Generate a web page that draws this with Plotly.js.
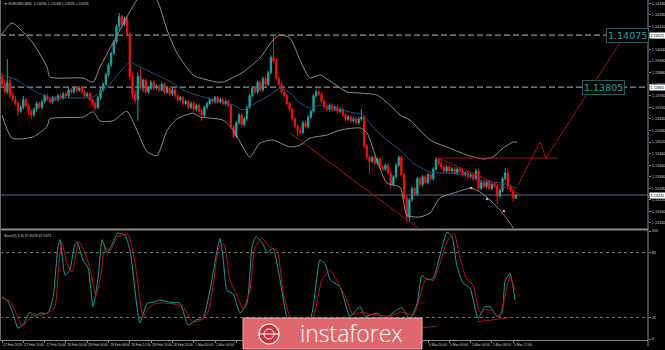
<!DOCTYPE html>
<html><head><meta charset="utf-8">
<script src="https://cdn.plot.ly/plotly-3.0.1.min.js"></script>
<style>html,body{margin:0;padding:0;background:#000;overflow:hidden}#chart{width:665px;height:350px}</style>
</head><body><div id="chart"></div>
<script>
// ---------- DATA (EURUSD M30) ----------
const openP = [1.1386,1.1382,1.1378,1.1383,1.1376,1.1374,1.1372,1.1368,1.1370,1.1374,
1.1371,1.1368,1.1366,1.1369,1.1372,1.1370,1.1373,1.1376,1.1374,1.1373,
1.1375,1.1374,1.1376,1.1375,1.1377,1.1376,1.1379,1.1378,1.1380,1.1379,
1.1380,1.1378,1.1376,1.1377,1.1374,1.1372,1.1370,1.1375,1.1379,1.1382,
1.1387,1.1392,1.1398,1.1404,1.1412,1.1417,1.1413,1.1416,1.1408,1.1386,
1.1377,1.1374,1.1386,1.1380,1.1384,1.1378,1.1380,1.1383,1.1380,1.1381,
1.1379,1.1382,1.1378,1.1380,1.1377,1.1379,1.1376,1.1374,1.1375,1.1372,
1.1373,1.1370,1.1372,1.1369,1.1371,1.1368,1.1366,1.1370,1.1372,1.1374,
1.1373,1.1375,1.1373,1.1374,1.1372,1.1373,1.1371,1.1360,1.1355,1.1362,
1.1366,1.1361,1.1364,1.1370,1.1376,1.1380,1.1378,1.1383,1.1379,1.1385,
1.1382,1.1388,1.1396,1.1394,1.1385,1.1382,1.1378,1.1376,1.1372,1.1369,
1.1364,1.1360,1.1358,1.1357,1.1362,1.1360,1.1365,1.1368,1.1376,1.1378,
1.1377,1.1373,1.1370,1.1369,1.1371,1.1369,1.1370,1.1368,1.1369,1.1366,
1.1364,1.1365,1.1363,1.1364,1.1362,1.1364,1.1365,1.1350,1.1344,1.1342,
1.1344,1.1341,1.1343,1.1339,1.1338,1.1340,1.1336,1.1330,1.1334,1.1340,
1.1344,1.1335,1.1323,1.1313,1.1322,1.1328,1.1325,1.1333,1.1330,1.1334,
1.1331,1.1335,1.1333,1.1338,1.1343,1.1341,1.1339,1.1337,1.1339,1.1337,
1.1338,1.1336,1.1338,1.1337,1.1335,1.1336,1.1334,1.1335,1.1333,1.1337,
1.1328,1.1331,1.1329,1.1331,1.1328,1.1330,1.1329,1.1324,1.1327,1.1333,
1.1336,1.1329,1.1327,1.1323];
const highP = [1.1388,1.1384,1.1395,1.1385,1.1378,1.1376,1.1373,1.1371,1.1376,1.1375,
1.1372,1.1369,1.1370,1.1373,1.1373,1.1374,1.1377,1.1377,1.1375,1.1376,
1.1376,1.1377,1.1377,1.1378,1.1378,1.1380,1.1380,1.1381,1.1381,1.1381,
1.1381,1.1379,1.1378,1.1378,1.1375,1.1373,1.1376,1.1380,1.1383,1.1388,
1.1393,1.1399,1.1405,1.1413,1.1419,1.1418,1.1417,1.1417,1.1409,1.1388,
1.1379,1.1388,1.1390,1.1385,1.1385,1.1381,1.1384,1.1384,1.1382,1.1382,
1.1383,1.1383,1.1381,1.1381,1.1380,1.1380,1.1377,1.1376,1.1376,1.1374,
1.1374,1.1373,1.1373,1.1372,1.1372,1.1369,1.1371,1.1373,1.1375,1.1375,
1.1376,1.1376,1.1375,1.1375,1.1374,1.1374,1.1372,1.1361,1.1363,1.1367,
1.1367,1.1365,1.1371,1.1377,1.1381,1.1381,1.1384,1.1384,1.1386,1.1386,
1.1389,1.1397,1.14075,1.1395,1.1386,1.1383,1.1379,1.1377,1.1373,1.1370,
1.1365,1.1361,1.1360,1.1363,1.1363,1.1366,1.1369,1.1377,1.1379,1.1379,
1.1378,1.1374,1.1372,1.1372,1.1372,1.1371,1.1371,1.1370,1.1370,1.1367,
1.1366,1.1366,1.1365,1.1365,1.1365,1.1369,1.1366,1.1351,1.1345,1.1345,
1.1345,1.1344,1.1344,1.1340,1.1341,1.1341,1.1337,1.1335,1.1341,1.1345,
1.1345,1.1336,1.1324,1.1323,1.1329,1.1329,1.1334,1.1334,1.1335,1.1335,
1.1336,1.1336,1.1339,1.1344,1.1344,1.1342,1.1340,1.1340,1.1340,1.1339,
1.1339,1.1339,1.1339,1.1338,1.1337,1.1337,1.1336,1.1336,1.1338,1.1338,
1.1332,1.1332,1.1332,1.1332,1.1331,1.1331,1.1330,1.1328,1.1334,1.13385,
1.1338,1.1330,1.1328,1.1325];
const lowP = [1.1380,1.1377,1.1377,1.1375,1.1373,1.1371,1.1366,1.1367,1.1369,1.1370,
1.1366,1.1364,1.1365,1.1368,1.1369,1.1369,1.1372,1.1373,1.1372,1.1372,
1.1373,1.1373,1.1374,1.1374,1.1375,1.1375,1.1377,1.1377,1.1378,1.1378,
1.1377,1.1375,1.1375,1.1373,1.1371,1.1368,1.1369,1.1374,1.1378,1.1381,
1.1386,1.1391,1.1397,1.1403,1.1410,1.1411,1.1412,1.1407,1.1384,1.1375,
1.1372,1.1363,1.1379,1.1378,1.1377,1.1377,1.1379,1.1379,1.1379,1.1378,
1.1378,1.1377,1.1377,1.1376,1.1376,1.1375,1.1373,1.1373,1.1371,1.1371,
1.1369,1.1369,1.1368,1.1368,1.1367,1.1363,1.1365,1.1369,1.1371,1.1372,
1.1372,1.1372,1.1372,1.1371,1.1371,1.1370,1.1359,1.1354,1.1354,1.1361,
1.1360,1.1360,1.1363,1.1369,1.1375,1.1377,1.1377,1.1378,1.1378,1.1381,
1.1381,1.1387,1.1393,1.1384,1.1381,1.1377,1.1375,1.1371,1.1368,1.1363,
1.1359,1.1355,1.1356,1.1356,1.1359,1.1359,1.1364,1.1367,1.1375,1.1376,
1.1372,1.1369,1.1368,1.1368,1.1368,1.1368,1.1367,1.1367,1.1365,1.1363,
1.1363,1.1362,1.1362,1.1361,1.1361,1.1363,1.1349,1.1343,1.1336,1.1341,
1.1340,1.1340,1.1338,1.1337,1.1337,1.1335,1.1328,1.1329,1.1333,1.1339,
1.1334,1.1322,1.13105,1.1311,1.1321,1.1324,1.1324,1.1329,1.1329,1.1330,
1.1330,1.1332,1.1332,1.1337,1.1340,1.1338,1.1336,1.1336,1.1336,1.1336,
1.1335,1.1335,1.1336,1.1334,1.1334,1.1333,1.1333,1.1332,1.1332,1.1327,
1.1327,1.1328,1.1328,1.1327,1.1327,1.1328,1.1320,1.1323,1.1326,1.1332,
1.1328,1.1326,1.1321,1.13225];
const closeP = [1.1382,1.1378,1.1383,1.1376,1.1374,1.1372,1.1368,1.1370,1.1374,1.1371,
1.1368,1.1366,1.1369,1.1372,1.1370,1.1373,1.1376,1.1374,1.1373,1.1375,
1.1374,1.1376,1.1375,1.1377,1.1376,1.1379,1.1378,1.1380,1.1379,1.1380,
1.1378,1.1376,1.1377,1.1374,1.1372,1.1370,1.1375,1.1379,1.1382,1.1387,
1.1392,1.1398,1.1404,1.1412,1.1417,1.1413,1.1416,1.1408,1.1386,1.1377,
1.1374,1.1386,1.1380,1.1384,1.1378,1.1380,1.1383,1.1380,1.1381,1.1379,
1.1382,1.1378,1.1380,1.1377,1.1379,1.1376,1.1374,1.1375,1.1372,1.1373,
1.1370,1.1372,1.1369,1.1371,1.1368,1.1366,1.1370,1.1372,1.1374,1.1373,
1.1375,1.1373,1.1374,1.1372,1.1373,1.1371,1.1360,1.1355,1.1362,1.1366,
1.1361,1.1364,1.1370,1.1376,1.1380,1.1378,1.1383,1.1379,1.1385,1.1382,
1.1388,1.1396,1.1394,1.1385,1.1382,1.1378,1.1376,1.1372,1.1369,1.1364,
1.1360,1.1358,1.1357,1.1362,1.1360,1.1365,1.1368,1.1376,1.1378,1.1377,
1.1373,1.1370,1.1369,1.1371,1.1369,1.1370,1.1368,1.1369,1.1366,1.1364,
1.1365,1.1363,1.1364,1.1362,1.1364,1.1365,1.1350,1.1344,1.1342,1.1344,
1.1341,1.1343,1.1339,1.1338,1.1340,1.1336,1.1330,1.1334,1.1340,1.1344,
1.1335,1.1323,1.1313,1.1322,1.1328,1.1325,1.1333,1.1330,1.1334,1.1331,
1.1335,1.1333,1.1338,1.1343,1.1341,1.1339,1.1337,1.1339,1.1337,1.1338,
1.1336,1.1338,1.1337,1.1335,1.1336,1.1334,1.1335,1.1333,1.1337,1.1328,
1.1331,1.1329,1.1331,1.1328,1.1330,1.1329,1.1324,1.1327,1.1333,1.1336,
1.1329,1.1327,1.1323,1.13245];

// Bollinger Bands (read at sample bars)
const bbUpX = [0,3.8,11.6,16.9,18,30.4,34.2,36.8,41.7,46.9,50.7,54.5,58.2,62,65.7,71.7,74.4,80.8,83,90.5,96.9,101.8,104.4,108.2,111.9,115.7,119.4,124.3,129.6,134.5,140.8,145.7,149.5,153.2,160.8,167.1,174.6,180.7,184.4,188.2,191.9,193.4];
const bbUp = [1.1408,1.14138,1.14034,1.13909,1.13857,1.13852,1.13831,1.13909,1.14034,1.14169,1.14257,1.1430,1.14257,1.14101,1.13982,1.13868,1.13852,1.13831,1.13831,1.13883,1.13956,1.14049,1.14075,1.1406,1.13946,1.13852,1.13868,1.13826,1.1378,1.13774,1.13764,1.13712,1.1366,1.13634,1.1353,1.13494,1.13453,1.13432,1.13442,1.13489,1.1352,1.1352];
const bbMidX = [0,5.6,11.6,18,24.4,34.2,39.4,44.3,48.1,51.8,62,69.5,77,80.8,86.8,90.5,95.8,100.7,104.4,108.2,111.9,115.7,119.4,124.3,130.7,135.6,139.3,144.6,149.5,154.4,160.8,167.1,174.6,179.5,184.4,188.2,191.9,193.4];
const bbMid = [1.13868,1.13842,1.1379,1.13748,1.13748,1.13754,1.13805,1.13883,1.13935,1.13909,1.13842,1.1378,1.13748,1.13728,1.13712,1.13686,1.13728,1.13764,1.138,1.13774,1.13722,1.13696,1.13712,1.13696,1.13676,1.1366,1.13598,1.1353,1.13479,1.13411,1.13364,1.13359,1.13349,1.13323,1.13312,1.13307,1.13286,1.1328];
const bbLowX = [0,3.8,11.6,16.9,18,30.4,34.2,36.8,41.7,46.9,50.7,54.5,58.2,62,65.7,71.7,74.4,83,86.8,90.1,93.1,96.9,101.8,108.2,111.9,115.7,122,126.9,134.5,137.1,140.8,144.6,149.5,152.1,157,160.8,164.5,170.9,175.8,178.4,183.3,187,190.8,192,193.4];
const bbLow = [1.1366,1.1354,1.13546,1.1360,1.1364,1.1365,1.13677,1.1363,1.1363,1.1368,1.1358,1.1347,1.1345,1.1358,1.1364,1.1367,1.1365,1.13634,1.13582,1.13504,1.13442,1.13515,1.1353,1.13494,1.13504,1.13541,1.13556,1.13582,1.13593,1.13567,1.13427,1.13307,1.13286,1.13141,1.13131,1.13152,1.1323,1.13261,1.13281,1.13271,1.13219,1.13167,1.131,1.13074,1.13053];

// Stochastic (5,3,3)
const stochKx = [0,1.9,4.1,6,7.9,10.5,12.4,14.3,17.3,19.2,21,21.8,23.7,25.5,27.4,28.2,30.4,32.3,34.2,36.1,37.6,39.4,40.6,43.6,46.2,48.1,51.8,54.5,56.7,59.3,63.1,66.9,69.9,73.2,75.5,78.1,80.8,81.9,83,84.5,86.8,89.4,92,93.9,95.4,98,99.5,101.8,104.4,107,109.3,115.7,119.4,121.3,123.2,127,130.7,134.5,136.3,140.8,143.8,148.4,150.2,153.2,155.9,157.7,159.6,161.9,165.3,167.1,169,170.9,173.1,175.8,178.8,181.4,183.3,185.9,187.8,188.9,190.8,192.7];
const stochK = [39,36,24,10,13,25,21,24,24,39,85,92,59,64,88,90,73,66,30,57,92,80,84,98,96,82,15,33,34,36,34,33,13,18,19,45,82,93,76,45,42,24,33,85,95,88,80,84,55,20,11,18,73,70,55,48,21,30,21,24,19,27,29,18,33,59,55,56,85,99,95,67,52,47,19,30,30,21,24,53,61,36];
const stochDx = [0,3,5.6,7.5,9.8,11.6,14.3,18,19.9,21.4,22.5,24.4,26.3,28.9,31.2,33,35.3,37.2,38.7,40.6,43.6,47.3,50,53,54.8,57.5,63.1,68,71.4,74.4,77.4,79.6,81.5,83.4,85.6,88.3,90.5,93.1,95,97.7,100.7,103.3,105.5,108.2,111.2,116.4,120.2,123.2,125.1,128.8,131.8,135.6,138.2,142,145.7,149.5,152.1,154.7,157,159.3,161.9,164.5,167.1,169.8,172,174.6,176.9,179.5,181.8,184.4,186.7,188.9,190.8,192.7];
const stochD = [38,35,22,12,17,24,22,25,30,70,90,70,62,90,80,65,40,60,85,82,95,97,70,20,28,33,33,30,16,17,25,55,85,88,55,40,28,45,85,93,85,82,45,20,13,17,55,64,57,40,23,25,23,22,21,25,24,22,40,56,54,70,90,98,75,55,50,25,27,26,20,40,58,45];

// Drawn analysis objects (bar index, price)
const channelLineX = [108.2,156.2], channelLineY = [1.13567,1.13074];
const resistX = [162.6,208.5], resistY = [1.13437,1.13437];
const trendX = [164.5,194.6], trendY = [1.13432,1.1325];
const projX = [193.8,202.1,204.3,233.2], projY = [1.13297,1.1352,1.13437,1.1406];
const dotsX = [176.2,182.2,188.5], dotsY = [1.13281,1.13224,1.13162];
const stochLine1X = [178.8,190.8], stochLine1Y = [16,19.7];
const stochLine2X = [157.7,163.4], stochLine2Y = [10.2,12];

const levelHigh = 1.14075, levelMid = 1.13805, lastPrice = 1.13245;
const tickIdx = [0,8,16,24,32,40,48,56,64,72,80,88,96,104,112,120,128,136,144,152,160,168,176,184,192];
const tickText = ['27 Feb 2019','27 Feb 16:00','27 Feb 20:00','28 Feb 00:00','28 Feb 04:00','28 Feb 08:00','28 Feb 12:00','28 Feb 16:00','28 Feb 20:00','1 Mar 00:00','1 Mar 04:00','1 Mar 08:00','1 Mar 12:00','1 Mar 16:00','1 Mar 20:00','4 Mar 00:00','4 Mar 04:00','4 Mar 08:00','4 Mar 12:00','4 Mar 16:00','4 Mar 20:00','5 Mar 00:00','5 Mar 04:00','5 Mar 08:00','5 Mar 12:00'];
const priceTicks = [1.1310,1.1316,1.1322,1.1328,1.1334,1.1340,1.1346,1.1352,1.1358,1.1364,1.1370,1.1376,1.1382,1.1388,1.1394,1.1400,1.1406,1.1412,1.1418,1.1424];
const stochTicks = [0,20,80,100];

// ---------- CHART ----------
const barIdx = closeP.map((_, i) => i);
const NARROW = 'Liberation Sans Narrow, Liberation Sans, DejaVu Sans Condensed, sans-serif';
const small = {family:NARROW, size:3.6, color:'#d0d0d0'};
const RED = '#a01212';
const WM_BARS = [85, 158];   // bar span hidden behind the watermark banner

const traces = [
  {type:'scatter', mode:'lines', x:bbUpX, y:bbUp, line:{color:'#8e8e8e', width:1, shape:'spline', smoothing:0.6}, hoverinfo:'skip', xaxis:'x', yaxis:'y'},
  {type:'scatter', mode:'lines', x:bbLowX, y:bbLow, line:{color:'#8e8e8e', width:1, shape:'spline', smoothing:0.6}, hoverinfo:'skip', xaxis:'x', yaxis:'y'},
  {type:'scatter', mode:'lines', x:bbMidX, y:bbMid, line:{color:'#2d4f80', width:1, shape:'spline', smoothing:0.6}, hoverinfo:'skip', xaxis:'x', yaxis:'y'},
  {type:'candlestick', x:barIdx, open:openP, high:highP, low:lowP, close:closeP,
   increasing:{line:{color:'#1aa39e', width:1}, fillcolor:'#1aa39e'},
   decreasing:{line:{color:'#f01010', width:1}, fillcolor:'#f01010'},
   whiskerwidth:0, hoverinfo:'skip', xaxis:'x', yaxis:'y'},
  {type:'scatter', mode:'lines', x:channelLineX, y:channelLineY, line:{color:RED, width:1}, hoverinfo:'skip', xaxis:'x', yaxis:'y'},
  {type:'scatter', mode:'lines', x:resistX, y:resistY, line:{color:RED, width:1}, hoverinfo:'skip', xaxis:'x', yaxis:'y'},
  {type:'scatter', mode:'lines', x:trendX, y:trendY, line:{color:RED, width:1}, hoverinfo:'skip', xaxis:'x', yaxis:'y'},
  {type:'scatter', mode:'lines', x:projX, y:projY, line:{color:RED, width:1}, hoverinfo:'skip', xaxis:'x', yaxis:'y', cliponaxis:false},
  {type:'scatter', mode:'markers', x:dotsX, y:dotsY, marker:{color:'#ff9a9a', size:2.5}, hoverinfo:'skip', xaxis:'x', yaxis:'y'},
  {type:'scatter', mode:'lines', x:stochKx, y:stochK, line:{color:'#1a9c96', width:1, shape:'spline', smoothing:0.5}, hoverinfo:'skip', xaxis:'x', yaxis:'y2'},
  {type:'scatter', mode:'lines', x:stochDx, y:stochD, line:{color:'#b01818', width:1, shape:'spline', smoothing:0.5}, hoverinfo:'skip', xaxis:'x', yaxis:'y2'},
  {type:'scatter', mode:'lines', x:stochLine1X, y:stochLine1Y, line:{color:RED, width:1}, hoverinfo:'skip', xaxis:'x', yaxis:'y2'},
  {type:'scatter', mode:'lines', x:stochLine2X, y:stochLine2Y, line:{color:RED, width:1}, hoverinfo:'skip', xaxis:'x', yaxis:'y2'}
];

const PH = 340; // plot height in px
const py = px => (PH - px) / PH;
const shapes = [
  {type:'line', xref:'paper', yref:'y', x0:0, x1:1, y0:levelHigh, y1:levelHigh, line:{color:'#b8b8b8', width:1, dash:'6px,3px'}, layer:'below'},
  {type:'line', xref:'paper', yref:'y', x0:0, x1:1, y0:levelMid, y1:levelMid, line:{color:'#b8b8b8', width:1, dash:'6px,3px'}, layer:'below'},
  {type:'line', xref:'paper', yref:'y', x0:0, x1:1, y0:lastPrice, y1:lastPrice, line:{color:'#5e6e80', width:1}, layer:'below'},
  {type:'line', xref:'paper', yref:'y2', x0:0, x1:1, y0:80, y1:80, line:{color:'#7a7a7a', width:1, dash:'dot'}, layer:'below'},
  {type:'line', xref:'paper', yref:'y2', x0:0, x1:1, y0:20, y1:20, line:{color:'#7a7a7a', width:1, dash:'dot'}, layer:'below'},
  {type:'line', xref:'paper', yref:'paper', x0:0, x1:1, y0:py(229.5), y1:py(229.5), line:{color:'#8a8a8a', width:2}},
  {type:'line', xref:'paper', yref:'paper', x0:1, x1:1, y0:py(346), y1:1, line:{color:'#8a8a8a', width:1}},
  {type:'line', xref:'paper', yref:'paper', x0:0, x1:1, y0:py(340.5), y1:py(340.5), line:{color:'#8a8a8a', width:1}},
  {type:'line', xref:'paper', yref:'paper', x0:0.0008, x1:0.0008, y0:py(340.5), y1:1, line:{color:'#6a6a6a', width:1}},
  // watermark box
  {type:'rect', xref:'paper', yref:'paper', x0:243/648, x1:422/648, y0:py(349), y1:py(318), fillcolor:'#e0676d', line:{color:'#f3b2b4', width:1}},
  {type:'circle', xref:'paper', yref:'paper', x0:259/648, x1:279/648, y0:py(344), y1:py(324), fillcolor:'#c9323a', line:{color:'#ffffff', width:1.2}},
  {type:'circle', xref:'paper', yref:'paper', x0:264/648, x1:274/648, y0:py(339), y1:py(329), fillcolor:'rgba(0,0,0,0)', line:{color:'#ffffff', width:1}},
  {type:'line', xref:'paper', yref:'paper', x0:259/648, x1:279/648, y0:py(334), y1:py(334), line:{color:'#ffffff', width:1}}
];

// time labels placed left-aligned at each tick, like the terminal does (hidden under the banner as in the source)
const timeLabels = tickIdx.map((v, k) => ({xref:'x', yref:'paper', x:v, y:py(344.5), xanchor:'left', yanchor:'middle',
   showarrow:false, text:tickText[k], font:{family:NARROW, size:3.4, color:'#d0d0d0'}, xshift:-1,
   visible: (v < WM_BARS[0] || v >= WM_BARS[1])}));

const annotations = timeLabels.concat([
  {xref:'paper', yref:'paper', x:0.003, y:py(4), xanchor:'left', yanchor:'middle', showarrow:false,
   text:'▼ EURUSD,M30  1.13230 1.13248 1.13205 1.13231', font:small},
  {xref:'paper', yref:'paper', x:0.003, y:py(236), xanchor:'left', yanchor:'middle', showarrow:false,
   text:'Stoch(5,3,3) 37.9078 47.5971', font:small},
  {xref:'paper', yref:'y', x:627/648, y:levelHigh, xanchor:'center', yanchor:'middle', showarrow:false,
   text:'1.14075', font:{family:'DejaVu Sans', size:9.5, color:'#2ea3a3'}, bgcolor:'#000', bordercolor:'#1d5e5e', borderwidth:1, borderpad:1},
  {xref:'paper', yref:'y', x:603/648, y:levelMid, xanchor:'center', yanchor:'middle', showarrow:false,
   text:'1.13805', font:{family:'DejaVu Sans', size:9.5, color:'#2ea3a3'}, bgcolor:'#000', bordercolor:'#1d5e5e', borderwidth:1, borderpad:1},
  {xref:'paper', yref:'y', x:1, xshift:1, y:levelHigh, xanchor:'left', yanchor:'middle', showarrow:false,
   text:'1.14075', font:{family:NARROW, size:3.8, color:'#000'}, bgcolor:'#ffffff', borderpad:0.5},
  {xref:'paper', yref:'y', x:1, xshift:1, y:levelMid, xanchor:'left', yanchor:'middle', showarrow:false,
   text:'1.13805', font:{family:NARROW, size:3.8, color:'#000'}, bgcolor:'#ffffff', borderpad:0.5},
  {xref:'paper', yref:'y', x:1, xshift:1, y:lastPrice, xanchor:'left', yanchor:'middle', showarrow:false,
   text:'1.13245', font:{family:NARROW, size:3.8, color:'#000'}, bgcolor:'#ffffff', borderpad:0.5},
  {xref:'paper', yref:'paper', x:351/648, y:py(333), xanchor:'center', yanchor:'middle', showarrow:false,
   text:'instaforex', font:{family:'Open Sans', size:23, color:'#ffffff', weight:300}}
]);

const layout = {
  width:665, height:350,
  paper_bgcolor:'#000', plot_bgcolor:'#000',
  margin:{l:0, r:17, t:0, b:10, pad:0},
  showlegend:false, dragmode:false,
  xaxis:{domain:[0,1], range:[-0.751,242.63], anchor:'y2', tickvals:tickIdx, showticklabels:false,
         ticks:'outside', ticklen:2, tickcolor:'#8a8a8a',
         showgrid:false, zeroline:false, showline:false, fixedrange:true, rangeslider:{visible:false}},
  yaxis:{domain:[py(228),1], range:[1.13074,1.14257], side:'right', anchor:'x', tickvals:priceTicks, tickformat:'.5f',
         tickfont:{family:NARROW, size:3.8, color:'#d0d0d0'}, ticks:'outside', ticklen:2, tickcolor:'#8a8a8a',
         showgrid:false, zeroline:false, showline:false, fixedrange:true},
  yaxis2:{domain:[0,py(231)], range:[-0.93,100], side:'right', anchor:'x', tickvals:stochTicks,
         tickfont:{family:NARROW, size:3.8, color:'#d0d0d0'}, ticks:'outside', ticklen:2, tickcolor:'#8a8a8a',
         showgrid:false, zeroline:false, showline:false, fixedrange:true},
  shapes:shapes, annotations:annotations
};

Plotly.newPlot('chart', traces, layout, {staticPlot:true, displayModeBar:false});
</script></body></html>
